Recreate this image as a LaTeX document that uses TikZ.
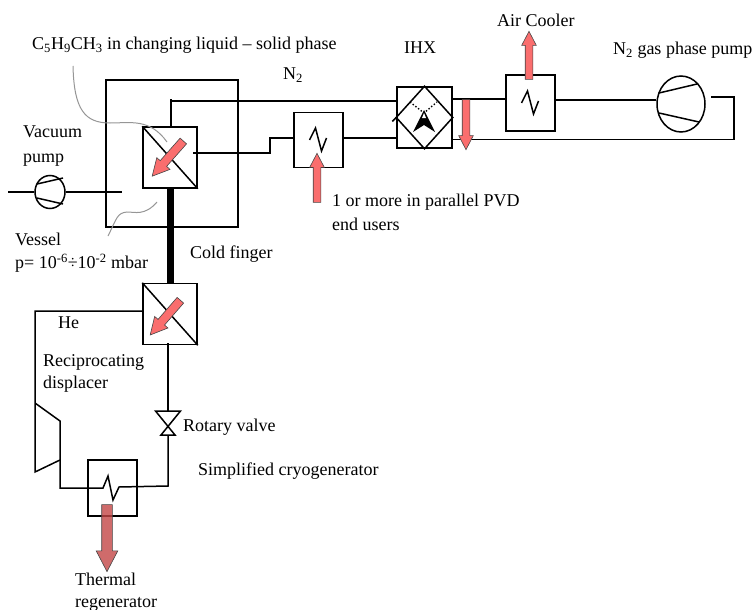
\documentclass[tikz,border=0pt]{standalone}
\usepackage{fontspec}
\setmainfont{Liberation Serif}
\usepackage{xcolor}
\usetikzlibrary{shapes.arrows, shapes.geometric, positioning}
\definecolor{heatred}{RGB}{250,110,110}
\definecolor{regenred}{RGB}{195,70,70}
\definecolor{edgegray}{RGB}{70,70,70}
\definecolor{leadgray}{RGB}{150,150,150}

\begin{document}
\begin{tikzpicture}[
    x=1pt, y=-1pt,
    pipe/.style={line width=1.5pt},
    label/.style={font=\fontsize{18}{22}\selectfont, inner sep=0pt, anchor=base west},
    multi/.style={font=\fontsize{18}{22}\selectfont, inner sep=0pt, anchor=west, align=left},
    hxbox/.style={draw, line width=1.5pt, inner sep=0pt, minimum width=49pt, minimum height=55pt},
    evapbox/.style={draw, line width=1.5pt, inner sep=0pt, minimum width=54pt, minimum height=61pt},
    pumpc/.style={draw, line width=1.5pt, ellipse, inner sep=0pt},
    heat/.style={single arrow, draw=edgegray, fill=heatred, line width=0.6pt,
                 inner xsep=0pt, inner ysep=3.5pt, minimum width=14pt,
                 single arrow head extend=3.5pt, single arrow head indent=0pt,
                 single arrow tip angle=55},
    lead/.style={draw=leadgray, line width=1pt}
  ]
    \useasboundingbox (0,0) rectangle (752,610);

    \node[draw, line width=2pt, minimum width=132pt, minimum height=147pt, inner sep=0pt] (vessel) at (172,153) {};
    \node[evapbox] (evap) at (170,157.5) {};
    \node[evapbox, below=94pt of evap] (cold) {};
    \node[hxbox] (user) at (318.5,140) {};
    \node[evapbox, minimum width=55pt] (ihx) at (424.5,117.5) {};
    \node[hxbox, minimum height=56pt] (cooler) at (530.5,103) {};
    \node[hxbox, minimum height=56pt] (regen) at (112.5,488) {};
    \node[pumpc, minimum width=48pt, minimum height=56pt] (n2pump) at (681,104) {};
    \node[pumpc, minimum width=30pt, minimum height=33pt] (vacpump) at (50,192) {};

    \coordinate (n2top) at (171,101);
    \coordinate (n2out) at (711,97);
    \coordinate (vacin) at (8,192);
    \coordinate (vacend) at (122,192);
    \coordinate (hereturn) at (35,403);
    \coordinate (dispout) at (60,460);
    \coordinate (valvetop) at (168,411);
    \coordinate (valvebot) at (168,435);
    \coordinate (regenend) at (168,486);

    % cold finger and vessel piping
    \draw[line width=7pt] (evap.south) -- (cold.north);
    \draw[pipe] (vacin) -- (vacpump.west);
    \draw[pipe] (vacpump.east) -- (vacend);
    \draw[pipe] (37,184) -- (63,178);
    \draw[pipe] (37,198) -- (63,204);
    \draw[pipe] (evap.north -| n2top) -- (n2top) -- (397,101);
    \draw[pipe] (n2top) -- ++(0,-2);
    \draw[pipe] (193,153) -- (270,153) -- (270,138) -- (user.west |- 0,138);
    \draw[pipe] (user.east |- 0,138) -- (ihx.west |- 0,138);
    \draw[pipe] (ihx.east |- 0,99) -- (cooler.west |- 0,99);
    \draw[pipe] (cooler.east |- 0,100) -- (n2pump.west |- 0,100);
    \draw[pipe] (n2out) -- (734,97) -- (734,139.5) -- (ihx.east |- 0,139.5);
    \draw[pipe] (659,93) -- (697,84);
    \draw[pipe] (659,113) -- (699,122);

    % zigzags
    \foreach \hxname in {user, cooler} {
      \draw[pipe] (\hxname.center) ++(-9,0) -- ++(6,-12) -- ++(6,23) -- ++(5,-13);
    }

    % IHX
    \draw[pipe] (ihx.north) -- (ihx.east) -- (ihx.south) -- (ihx.west) -- cycle;
    \draw[pipe] (ihx.west) -- ++(-4,4);
    \draw[line width=1.4pt, dotted] (410,102) -- (424,113) -- (437,102);
    \fill (424,110) -- (413,132) -- (424,125) -- (435,132) -- cycle;
    \fill[white] (424,113) -- (422,118) -- (426,118) -- cycle;

    % helium loop
    \draw[pipe] (cold.west |- 0,311) -- (35,311) -- (hereturn) -- (60,421) -- (dispout) -- (35,472) -- (hereturn);
    \draw[pipe] (dispout) -- (60,488) -- (103,488) -- (108,476) -- (113,500) -- (119,487) -- (regenend) -- (valvebot);
    \draw[pipe] (168,343) -- (valvetop);
    \draw[pipe] (155.5,411) -- (180.5,411) -- (161,435) -- (175,435) -- cycle;

    \draw[pipe] (evap.north west) -- (evap.south east);
    \draw[pipe] (cold.north west) -- (cold.south east);

    % lead lines
    \draw[lead] (73,66) .. controls (74,110) and (85,123) .. (110,123)
      .. controls (130,123) and (150,118) .. (167,142);
    \draw[lead] (157,202) .. controls (145,216) and (135,212) .. (127,212)
      .. controls (117,213) and (117,218) .. (108,236);

    % heat arrows
    \node[heat, minimum height=47pt, inner ysep=4pt, minimum width=17pt, single arrow head extend=4.5pt, rotate=228.5] (evaparrow) at (170.5,155.5) {};
    \node[heat, minimum height=46pt, inner ysep=4pt, minimum width=17pt, single arrow head extend=4.5pt, rotate=229] (coldarrow) at (168,314.5) {};
    \node[heat, minimum height=49pt, rotate=90] (userarrow) at (317,181.5) {};
    \node[heat, minimum height=50pt, rotate=-90] (ihxarrow) at (466,121) {};
    \node[heat, minimum height=48pt, rotate=90] (coolarrow) at (529,59) {};
    \node[heat, fill=regenred, fill opacity=0.8, minimum height=67pt, inner ysep=5pt, minimum width=21pt, single arrow head extend=5.5pt, rotate=-90] (regenarrow) at (107,533) {};

    % labels
    \node[label] (c5) at (32,50) {C\textsubscript{5}H\textsubscript{9}CH\textsubscript{3} in changing liquid -- solid phase};
    \node[label] (n2) at (283,80) {N\textsubscript{2}};
    \node[label] (ihxt) at (404,53) {IHX};
    \node[label] (coolt) at (497,27) {Air Cooler};
    \node[label] (n2t) at (613,55) {N\textsubscript{2} gas phase pump};
    \node[multi] (vact) at (23,146.5) {Vacuum\\[3pt]pump};
    \node[multi] (vest) at (15,252.5) {Vessel\\[1pt]p= 10\textsuperscript{-6}÷10\textsuperscript{-2} mbar};
    \node[label] (fing) at (190,258) {Cold finger};
    \node[multi] (usert) at (332,212) {1 or more in parallel PVD\\[2pt]end users};
    \node[label] (het) at (58,328) {He};
    \node[multi] (disp) at (43,373) {Reciprocating\\displacer};
    \node[label] (valve) at (183,431) {Rotary valve};
    \node[label] (simp) at (198,475) {Simplified cryogenerator};
    \node[multi] (regt) at (75,592) {Thermal\\regenerator};
  \end{tikzpicture}
\end{document}
